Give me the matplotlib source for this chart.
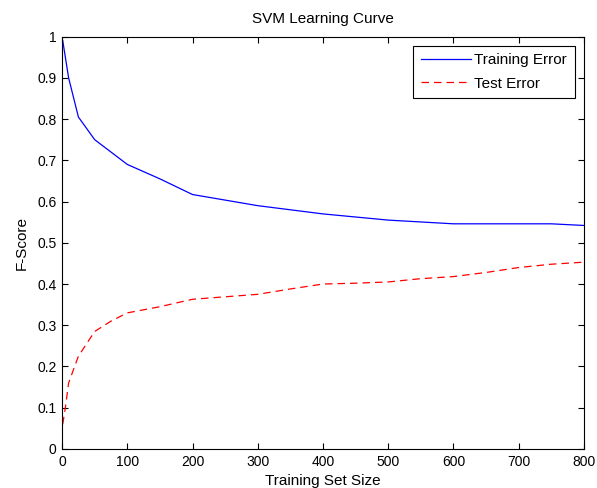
import numpy as np
import matplotlib.pyplot as plt

plt.rcParams['font.family'] = ['Liberation Sans', 'DejaVu Sans']

train_x = [1, 10, 25, 50, 100, 150, 200, 300, 400, 500, 600, 700, 750, 800]
train_err = [0.99, 0.90, 0.805, 0.75, 0.69, 0.655, 0.617, 0.59, 0.57, 0.555, 0.546, 0.546, 0.546, 0.542]

test_x = [1, 5, 10, 25, 50, 75, 100, 150, 200, 300, 350, 400, 450, 500, 550, 600, 650, 700, 750, 800]
test_err = [0.06, 0.10, 0.16, 0.225, 0.285, 0.31, 0.33, 0.345, 0.363, 0.375, 0.388, 0.40, 0.402, 0.405, 0.413, 0.418, 0.428, 0.44, 0.448, 0.453]

fig = plt.figure(figsize=(5.97, 4.88), dpi=100)
ax = fig.add_axes([0.104, 0.080, 0.874, 0.845])

ax.plot(train_x, train_err, color='blue', lw=0.9, label='Training Error')
ax.plot(test_x, test_err, color='red', lw=0.9, ls=(0, (6, 4)), label='Test Error')

ax.set_xlim(0, 800)
ax.set_ylim(0, 1)
ax.set_xticks(np.arange(0, 801, 100))
ax.set_yticks(np.arange(0, 1.01, 0.1))
ax.set_yticklabels(['0', '0.1', '0.2', '0.3', '0.4', '0.5', '0.6', '0.7', '0.8', '0.9', '1'])
ax.tick_params(direction='in', top=True, right=True, labelsize=10, length=4, width=0.8, pad=4)
for s in ax.spines.values():
    s.set_linewidth(0.8)

ax.set_title('SVM Learning Curve', fontsize=11, pad=10)
ax.set_xlabel('Training Set Size', fontsize=11, labelpad=4)
ax.set_ylabel('F-Score', fontsize=11, labelpad=6)

leg = ax.legend(loc='upper right', fontsize=11, fancybox=False, framealpha=1,
                edgecolor='black', borderaxespad=0.6, handlelength=3.3,
                labelspacing=0.6, handletextpad=0.2, borderpad=0.5)
leg.get_frame().set_linewidth(0.8)

fig.savefig('out.png', dpi=100)
